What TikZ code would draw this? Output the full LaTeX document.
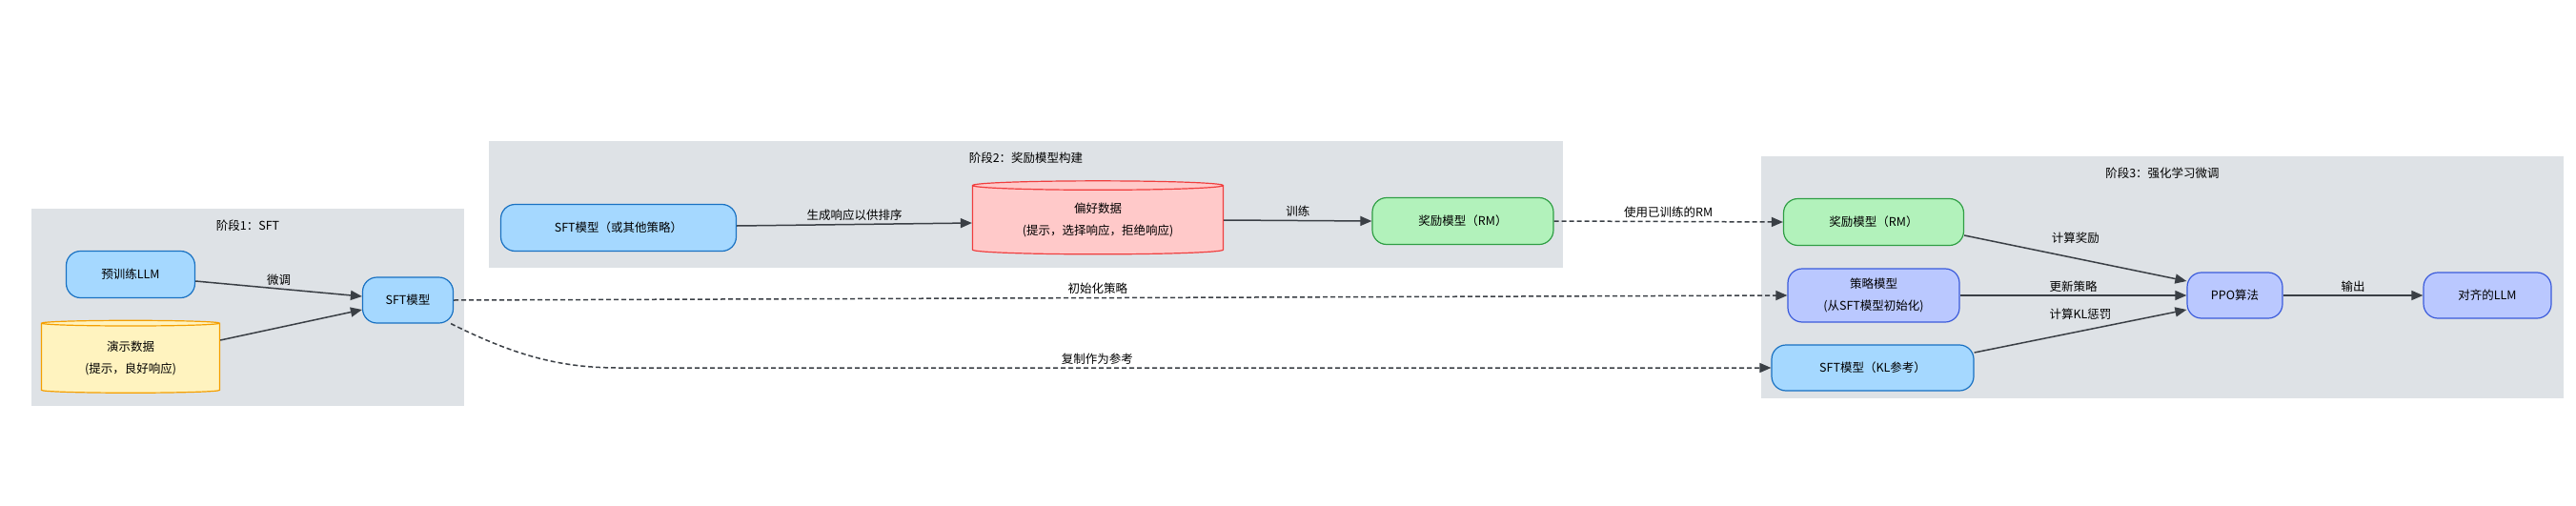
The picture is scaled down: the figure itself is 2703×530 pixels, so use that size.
\documentclass[tikz,border=0pt]{standalone}
\usepackage{fontspec}
\setmainfont{Noto Sans CJK SC}
\usetikzlibrary{shapes.geometric,arrows.meta}

\definecolor{groupbg}{HTML}{DEE2E6}
\definecolor{sftfill}{HTML}{A5D8FF}
\definecolor{sftline}{HTML}{1971C2}
\definecolor{rmfill}{HTML}{B2F2BB}
\definecolor{rmline}{HTML}{2F9E44}
\definecolor{polfill}{HTML}{BAC8FF}
\definecolor{polline}{HTML}{3B5BDB}
\definecolor{demofill}{HTML}{FFF3BF}
\definecolor{demoline}{HTML}{F59F00}
\definecolor{preffill}{HTML}{FFC9C9}
\definecolor{prefline}{HTML}{F03E3E}
\definecolor{edge}{HTML}{3A3F45}

\newcommand\diagfont{\fontsize{12.5}{23}\selectfont}

\tikzset{
   centered/.style = { align=center, anchor=center },
      group/.style = { fill=groupbg, draw=none, inner sep=0pt, outer sep=0pt },
      title/.style = { font=\diagfont, centered },
      model/.style = { font=\diagfont, centered, rounded corners=15pt,
                       line width=1.2pt, inner sep=0pt, minimum height=49pt },
     sftbox/.style = { model, fill=sftfill, draw=sftline },
      rmbox/.style = { model, fill=rmfill, draw=rmline },
     polbox/.style = { model, fill=polfill, draw=polline },
      store/.style = { font=\diagfont, centered, cylinder, shape border rotate=90,
                       aspect=0.06, line width=1.2pt, inner sep=0pt },
      arrow/.style = { line width=1.5pt, color=edge, -{Triangle[length=12pt,width=10pt]} },
  dasharrow/.style = { arrow, dash pattern=on 5pt off 3pt },
  edgelabel/.style = { font=\diagfont, above, inner sep=3pt, text=black },
}

\begin{document}
\begin{tikzpicture}[x=1pt,y=-1pt]
  \useasboundingbox (0,0) rectangle (2703,530);

  % stages
  \node[group, minimum width=454pt,  minimum height=207pt] (stage1) at (260,322.5)  {};
  \node[group, minimum width=1127pt, minimum height=133pt] (stage2) at (1076.5,214.5) {};
  \node[group, minimum width=842pt,  minimum height=254pt] (stage3) at (2269,291)   {};
  \node[title] (title1) at ([yshift=-18pt]stage1.north) {阶段1：SFT};
  \node[title] (title2) at ([yshift=-18pt]stage2.north) {阶段2：奖励模型构建};
  \node[title] (title3) at ([yshift=-18pt]stage3.north) {阶段3：强化学习微调};

  % stage 1
  \node[sftbox, minimum width=135pt] (pre)  at (137,288) {预训练LLM};
  \node[store, fill=demofill, draw=demoline, minimum width=187pt, minimum height=76pt]
        (demo) at (137,376) {演示数据\\(提示，良好响应)};
  \node[sftbox, minimum width=95pt, minimum height=48pt] (sft1) at (428,315) {SFT模型};

  % stage 2
  \node[sftbox, minimum width=247pt] (sft2) at (649,239) {SFT模型（或其他策略）};
  \node[store, fill=preffill, draw=prefline, minimum width=263pt, minimum height=77pt]
        (pref) at (1152,231) {偏好数据\\(提示，选择响应，拒绝响应)};
  \node[rmbox, minimum width=190pt] (rm1) at (1535,232) {奖励模型（RM）};

  % stage 3
  \node[rmbox,  minimum width=189pt] (rm2)    at (1966,233) {奖励模型（RM）};
  \node[polbox, minimum width=180pt, minimum height=56pt] (policy) at (1966,310) {策略模型\\(从SFT模型初始化)};
  \node[sftbox, minimum width=212pt, minimum height=48pt] (sftref) at (1965,386) {SFT模型（KL参考）};
  \node[polbox, minimum width=100pt, minimum height=48pt] (ppo)     at (2345,310) {PPO算法};
  \node[polbox, minimum width=134pt, minimum height=48pt] (aligned) at (2610,310) {对齐的LLM};

  \draw[arrow] ([yshift=-7pt]pre.east) -- node[edgelabel] {微调} ([yshift=4pt]sft1.west);
  \draw[arrow] ([yshift=19pt]demo.east) -- ([yshift=-10pt]sft1.west);
  \draw[arrow] ([yshift=2pt]sft2.east) -- node[edgelabel] {生成响应以供排序} ([yshift=-3pt]pref.west);
  \draw[arrow] (pref.east) -- node[edgelabel] {训练} (rm1.west);
  \draw[dasharrow] (rm1.east) -- node[edgelabel] {使用已训练的RM} (rm2.west);
  \draw[dasharrow] (sft1.east) -- node[edgelabel, pos=0.483] {初始化策略} (policy.west);
  \coordinate (bend) at (650,386);
  \draw[dasharrow] ([xshift=-3pt]sft1.south east) .. controls +(70,35) and +(-60,0) .. (bend)
    -- node[edgelabel, pos=0.415] {复制作为参考} (sftref.west);
  \draw[arrow] ([yshift=-14pt]rm2.east) -- node[edgelabel, yshift=12pt] {计算奖励} ([yshift=15pt]ppo.west);
  \draw[arrow] (policy.east) -- node[edgelabel] {更新策略} (ppo.west);
  \draw[arrow] ([yshift=16pt]sftref.east) -- node[edgelabel, yshift=8pt] {计算KL惩罚} ([yshift=-15pt]ppo.west);
  \draw[arrow] (ppo.east) -- node[edgelabel] {输出} (aligned.west);
\end{tikzpicture}
\end{document}
